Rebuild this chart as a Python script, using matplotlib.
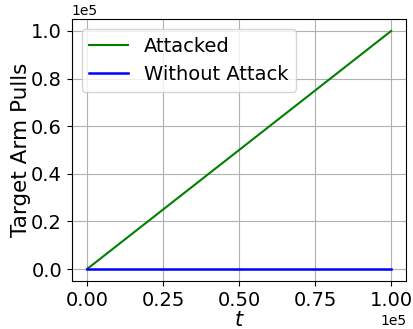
import matplotlib
matplotlib.use("Agg")
import matplotlib.pyplot as plt

# data
t = [0, 100000]
attacked = [0, 100000]
without_attack = [0, 0]

fig = plt.figure(figsize=(4.14, 3.29), dpi=100)
ax = fig.add_axes([0.1735, 0.146, 0.808, 0.796])

ax.plot(t, attacked, color="g", lw=1.5, label="Attacked")
ax.plot(t, without_attack, color="b", lw=1.8, label="Without Attack")

ax.grid(True)
ax.ticklabel_format(style="sci", axis="both", scilimits=(0, 0))
ax.tick_params(labelsize=14)
ax.set_xlabel("$t$", fontsize=15, labelpad=0)
ax.set_ylabel("Target Arm Pulls", fontsize=15.5, labelpad=0)
ax.legend(loc="upper left", fontsize=14)

fig.savefig("out.png", dpi=100)
